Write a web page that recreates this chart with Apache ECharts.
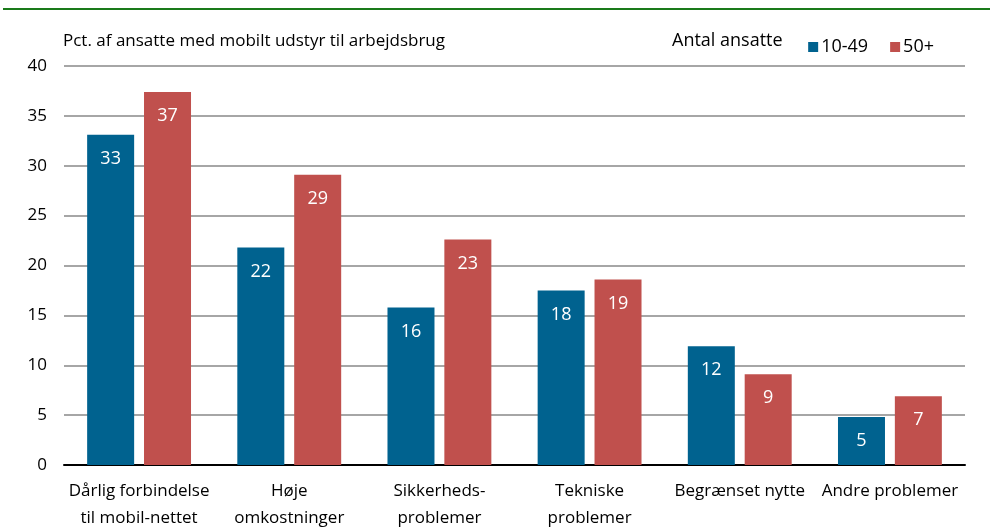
<!DOCTYPE html>
<html><head><meta charset="utf-8">
<script src="https://cdn.jsdelivr.net/npm/echarts@6/dist/echarts.min.js"></script>
<style>html,body{margin:0;padding:0;background:#fff}#c{width:993px;height:532px}</style>
</head><body><div id="c"></div>
<script>
var categories = ["Dårlig forbindelse\ntil mobil-nettet", "Høje\nomkostninger", "Sikkerheds-\nproblemer", "Tekniske\nproblemer", "Begrænset nytte", "Andre problemer"];
var small = [33.1, 21.8, 15.8, 17.5, 11.9, 4.8];
var large = [37.4, 29.1, 22.6, 18.6, 9.1, 6.9];
var yTicks = [0, 5, 10, 15, 20, 25, 30, 35, 40];
var FONT = "'Open Sans', sans-serif";
var chart = echarts.init(document.getElementById('c'));
chart.setOption({
  animation: false,
  textStyle: {fontFamily: FONT},
  grid: {left: 64, right: 28, top: 66, bottom: 62, containLabel: false},
  graphic: [
    {type: 'line', shape: {x1: 3, y1: 9, x2: 990, y2: 9}, style: {stroke: '#1a7a1a', lineWidth: 2}},
    {type: 'text', left: 63, top: 33, style: {text: 'Pct. af ansatte med mobilt udstyr til arbejdsbrug', font: '17px ' + FONT, fill: '#000'}},
    {type: 'text', left: 672, top: 32, style: {text: 'Antal ansatte', font: '18px ' + FONT, fill: '#000'}}
  ],
  legend: {
    right: 54, top: 33, itemWidth: 10, itemHeight: 10, itemGap: 22,
    icon: 'rect',
    textStyle: {fontSize: 18, fontFamily: FONT, color: '#000', padding: [0,0,0,-2]},
    data: ['10-49', '50+']
  },
  xAxis: {
    type: 'category', data: categories,
    axisLine: {lineStyle: {color: '#000', width: 2}},
    axisTick: {show: false},
    axisLabel: {fontSize: 17, color: '#000', fontFamily: FONT, lineHeight: 27, margin: 13, interval: 0}
  },
  yAxis: {
    type: 'value', min: 0, max: 40, interval: 5,
    axisLine: {show: false}, axisTick: {show: false},
    axisLabel: {fontSize: 17, color: '#000', fontFamily: FONT, margin: 17,
      formatter: function(v){ return yTicks.indexOf(v) >= 0 ? String(v) : ''; }},
    splitLine: {lineStyle: {color: '#a6a6a6', width: 2}}
  },
  series: [
    {name: '10-49', type: 'bar', data: small, barWidth: 47, barGap: '21%',
      itemStyle: {color: '#00628f'},
      label: {show: true, position: 'insideTop', distance: 15, color: '#fff', fontSize: 18, fontFamily: FONT,
        formatter: function(p){ return Math.round(p.value); }}},
    {name: '50+', type: 'bar', data: large, barWidth: 47,
      itemStyle: {color: '#c0504d'},
      label: {show: true, position: 'insideTop', distance: 15, color: '#fff', fontSize: 18, fontFamily: FONT,
        formatter: function(p){ return Math.round(p.value); }}}
  ]
});
</script></body></html>
